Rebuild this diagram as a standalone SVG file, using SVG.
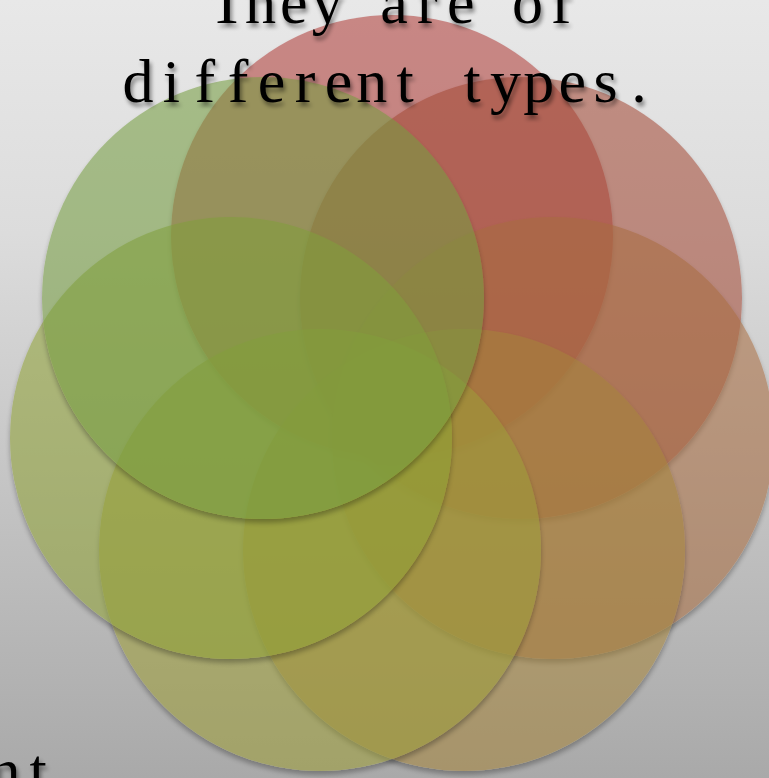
<svg xmlns="http://www.w3.org/2000/svg" width="769" height="778" viewBox="0 0 769 778">
<style>
  .c { opacity: 0.56; filter: url(#cs); }
  .t { font-family: "Liberation Serif", "Noto Sans CJK SC", serif; font-size: 62px; fill: #000; text-anchor: middle; }
</style>
<defs>
  <linearGradient id="bg" x1="0" y1="0" x2="0" y2="1">
    <stop offset="0" stop-color="#e8e8e8"/>
    <stop offset="0.3" stop-color="#dcdcdc"/>
    <stop offset="1" stop-color="#a9a9a9"/>
  </linearGradient>
  <filter id="cs" x="-10%" y="-10%" width="120%" height="125%">
    <feGaussianBlur in="SourceAlpha" stdDeviation="2.5" result="b"/>
    <feOffset in="b" dx="0" dy="4" result="o"/>
    <feComponentTransfer in="o" result="o2"><feFuncA type="linear" slope="0.5"/></feComponentTransfer>
    <feComposite in="o2" in2="SourceAlpha" operator="out" result="sh"/>
    <feMerge><feMergeNode in="sh"/><feMergeNode in="SourceGraphic"/></feMerge>
  </filter>
  <filter id="ts" x="-5%" y="-20%" width="115%" height="150%">
    <feGaussianBlur in="SourceAlpha" stdDeviation="2" result="b"/>
    <feOffset in="b" dx="2" dy="4" result="o"/>
    <feComponentTransfer in="o" result="o2"><feFuncA type="linear" slope="0.45"/></feComponentTransfer>
    <feMerge><feMergeNode in="o2"/><feMergeNode in="SourceGraphic"/></feMerge>
  </filter>
</defs>
<rect x="0" y="0" width="769" height="778" fill="url(#bg)"/>
<g id="circles">
  <g id="node1"><circle class="c" cx="392" cy="236" r="221" fill="#b03c39"/></g>
  <g id="node2"><circle class="c" cx="521" cy="298" r="221" fill="#a34836"/></g>
  <g id="node3"><circle class="c" cx="553" cy="438" r="221" fill="#a86c3f"/></g>
  <g id="node4"><circle class="c" cx="464" cy="550" r="221" fill="#a5843b"/></g>
  <g id="node5"><circle class="c" cx="320" cy="550" r="221" fill="#9d9d39"/></g>
  <g id="node6"><circle class="c" cx="231" cy="438" r="221" fill="#8fa134"/></g>
  <g id="node7"><circle class="c" cx="263" cy="298" r="221" fill="#759d3f"/></g>
</g>
<g id="title" filter="url(#ts)">
  <text class="t" x="227 260.4 293.8 327.2 360.6 394 427.4 460.8 494.2 527.6 561" y="23">They are of</text>
  <text class="t" x="138 171.4 204.8 238.2 271.6 305 338.4 371.8 405.2 438.6 472 505.4 538.8 572.2 605.6 639" y="102">different types.</text>
  <text class="t" x="5 38" y="791">nt</text>
</g>
</svg>
